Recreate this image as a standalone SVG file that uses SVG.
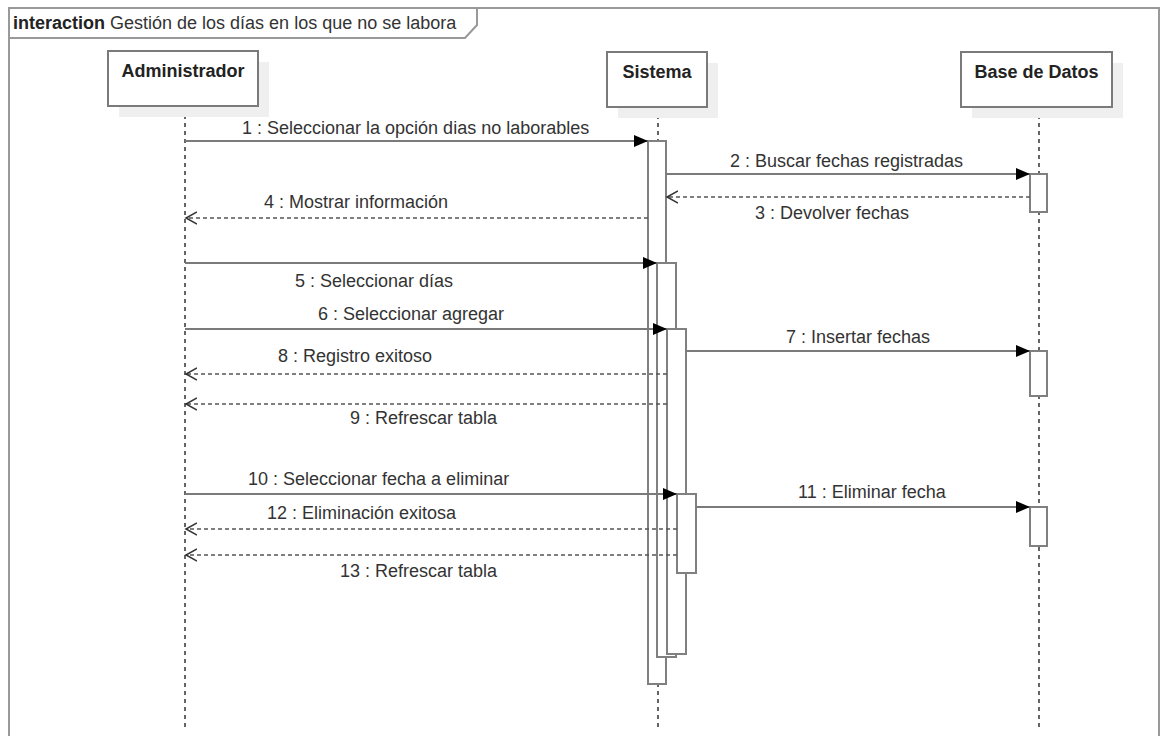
<svg xmlns="http://www.w3.org/2000/svg" width="1160" height="736" viewBox="0 0 1160 736">
<style>
text{font-family:"Liberation Sans",Arial,sans-serif;font-size:18px;fill:#333}
.b{font-weight:bold;fill:#222}
.head{fill:#fff;stroke:#7a7a7a;stroke-width:2}
.shadow{fill:#efefef}
.life{stroke:#333;stroke-width:1.5;stroke-dasharray:4 4;fill:none}
.act{fill:#fff;stroke:#808080;stroke-width:2}
.msg{stroke:#7a7a7a;stroke-width:2;fill:none;marker-end:url(#fill)}
.ret{stroke:#555;stroke-width:1.5;stroke-dasharray:4 3;fill:none;marker-end:url(#open)}
.frame{fill:none;stroke:#999;stroke-width:2}
</style>
<defs>
<marker id="fill" markerUnits="userSpaceOnUse" markerWidth="16" markerHeight="14" refX="14" refY="6" orient="auto"><path d="M0,0 L14,6 L0,12 z" fill="#000"/></marker>
<marker id="open" markerUnits="userSpaceOnUse" markerWidth="14" markerHeight="16" refX="11" refY="7" orient="auto"><path d="M0,1 L11,7 L0,13" fill="none" stroke="#333" stroke-width="1.5"/></marker>
</defs>
<rect width="1160" height="736" fill="#fff"/>
<g id="frame">
<rect class="frame" x="9" y="8" width="1150" height="740"/>
<path class="frame" d="M9 38 H465 L477 25 V8"/>
<text x="13" y="29"><tspan class="b">interaction</tspan> Gestión de los días en los que no se labora</text>
</g>
<g id="administrador">
<line class="life" x1="185" y1="107" x2="185" y2="730"/>
<rect class="shadow" x="119" y="62" width="150" height="55"/>
<rect class="head" x="108" y="51" width="150" height="55"/>
<text class="b" x="183" y="77" text-anchor="middle">Administrador</text>
</g>
<g id="sistema">
<line class="life" x1="658" y1="107" x2="658" y2="730"/>
<rect class="shadow" x="618" y="63" width="100" height="55"/>
<rect class="head" x="607" y="52" width="100" height="55"/>
<text class="b" x="657" y="78" text-anchor="middle">Sistema</text>
<rect class="act" x="648" y="141" width="18" height="543"/>
<rect class="act" x="657" y="263" width="19" height="394"/>
<rect class="act" x="667" y="329" width="19" height="325"/>
<rect class="act" x="677" y="494" width="19" height="79"/>
</g>
<g id="base-de-datos">
<line class="life" x1="1039" y1="107" x2="1039" y2="730"/>
<rect class="shadow" x="972" y="63" width="151" height="55"/>
<rect class="head" x="961" y="52" width="151" height="55"/>
<text class="b" x="1036.5" y="78" text-anchor="middle">Base de Datos</text>
<rect class="act" x="1030" y="174" width="17" height="38"/>
<rect class="act" x="1030" y="351" width="17" height="45"/>
<rect class="act" x="1030" y="507" width="17" height="39"/>
</g>
<g id="connectors">
<line class="msg" x1="185" y1="141" x2="648" y2="141"/>
<text x="242" y="134">1 : Seleccionar la opción dias no laborables</text>
<line class="msg" x1="666" y1="174" x2="1030" y2="174"/>
<text x="730" y="167">2 : Buscar fechas registradas</text>
<line class="ret" x1="1030" y1="197" x2="667" y2="197"/>
<text x="755" y="219">3 : Devolver fechas</text>
<line class="ret" x1="648" y1="218" x2="186" y2="218"/>
<text x="264" y="208">4 : Mostrar información</text>
<line class="msg" x1="185" y1="263" x2="657" y2="263"/>
<text x="295" y="287">5 : Seleccionar días</text>
<line class="msg" x1="185" y1="329" x2="667" y2="329"/>
<text x="318" y="320">6 : Seleccionar agregar</text>
<line class="msg" x1="686" y1="351" x2="1030" y2="351"/>
<text x="786" y="343">7 : Insertar fechas</text>
<line class="ret" x1="667" y1="374" x2="186" y2="374"/>
<text x="278" y="362">8 : Registro exitoso</text>
<line class="ret" x1="667" y1="404" x2="186" y2="404"/>
<text x="350" y="424">9 : Refrescar tabla</text>
<line class="msg" x1="185" y1="494" x2="677" y2="494"/>
<text x="248" y="485">10 : Seleccionar fecha a eliminar</text>
<line class="msg" x1="696" y1="507" x2="1030" y2="507"/>
<text x="798" y="498">11 : Eliminar fecha</text>
<line class="ret" x1="677" y1="529" x2="186" y2="529"/>
<text x="267" y="519">12 : Eliminación exitosa</text>
<line class="ret" x1="677" y1="555" x2="186" y2="555"/>
<text x="340" y="577">13 : Refrescar tabla</text>
</g>
</svg>
